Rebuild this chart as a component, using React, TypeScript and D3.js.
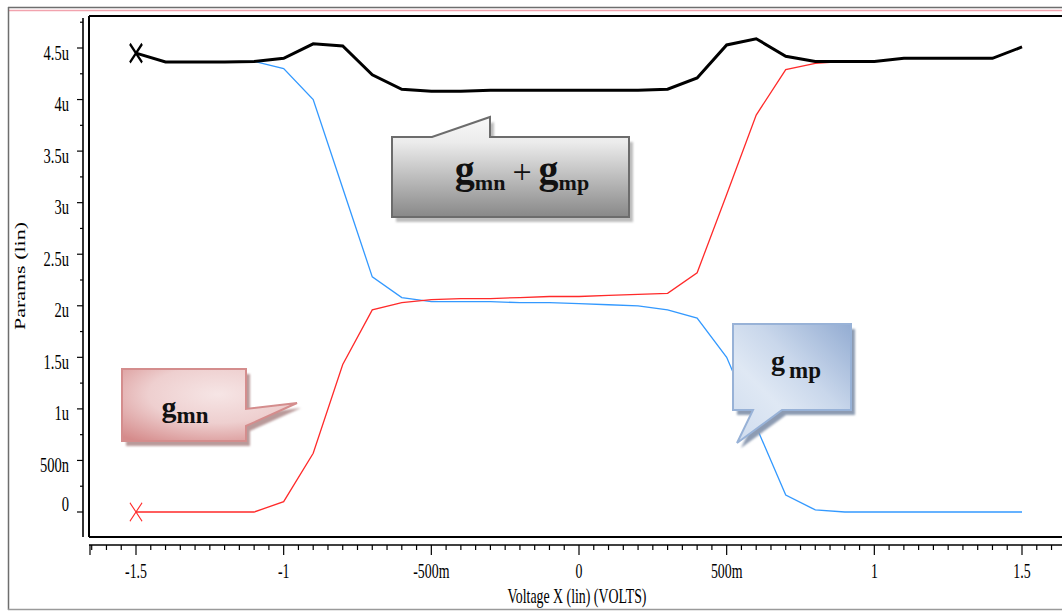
import React from 'react';
import * as d3 from 'd3';

// Sweep of the input voltage (V)
const voltage = [
  -1.5, -1.4, -1.3, -1.2, -1.1, -1.0, -0.9, -0.8, -0.7, -0.6, -0.5, -0.4, -0.3, -0.2, -0.1,
  0, 0.1, 0.2, 0.3, 0.4, 0.5, 0.6, 0.7, 0.8, 0.9, 1.0, 1.1, 1.2, 1.3, 1.4, 1.5,
];
// Transconductances in micro-siemens
const gmn = [
  0, 0, 0, 0, 0, 0.1, 0.57, 1.43, 1.96, 2.03, 2.06, 2.07, 2.07, 2.08, 2.09,
  2.09, 2.1, 2.11, 2.12, 2.32, 3.08, 3.85, 4.29, 4.35, 4.37, 4.37, 4.4, 4.4, 4.4, 4.4, 4.51,
];
const gmp = [
  4.45, 4.365, 4.365, 4.365, 4.37, 4.3, 4.0, 3.14, 2.28, 2.08, 2.04, 2.04, 2.04, 2.03, 2.03,
  2.02, 2.01, 2.0, 1.96, 1.88, 1.5, 0.83, 0.165, 0.02, 0, 0, 0, 0, 0, 0, 0,
];
const gsum = [
  4.45, 4.365, 4.365, 4.365, 4.37, 4.4, 4.54, 4.52, 4.24, 4.1, 4.08, 4.08, 4.09, 4.09, 4.09,
  4.09, 4.09, 4.09, 4.1, 4.21, 4.53, 4.59, 4.42, 4.37, 4.37, 4.37, 4.4, 4.4, 4.4, 4.4, 4.51,
];

const yTickValues = [0, 0.5, 1, 1.5, 2, 2.5, 3, 3.5, 4, 4.5];
const yTickLabels = ['0', '500n', '1u', '1.5u', '2u', '2.5u', '3u', '3.5u', '4u', '4.5u'];
const xTickValues = [-1.5, -1, -0.5, 0, 0.5, 1, 1.5];
const xTickLabels = ['-1.5', '-1', '-500m', '0', '500m', '1', '1.5'];

const W = 1062;
const H = 611;
const FONT = "'Liberation Serif', 'Times New Roman', serif";
const SQ = 0.66; // horizontal squeeze of the waveform viewer's font

const x = d3.scaleLinear().domain([-1.5, 1.5]).range([136, 1022]);
const y = d3.scaleLinear().domain([0, 4.5]).range([512, 48]);

const frame = { left: 89, top: 16, bottom: 537 };
const yAxisX = 83;
const xAxisY = 545;

function linePath(vals: number[]) {
  const gen = d3
    .line<number>()
    .x((_, i) => x(voltage[i]))
    .y((d) => y(d));
  return gen(vals) || '';
}

const xSymbol = d3.symbol(d3.symbolTimes, 90)() || '';

const sumShape = 'M392,137 L432,137 L490,117 L490,137 L629,137 L629,217 L392,217 Z';
const gmnShape = 'M122,369 L246,369 L246,409 L297,403 L246,426 L246,441 L122,441 Z';
const gmpShape = 'M733,324 L851,324 L851,410 L782,410 L737,443 L753,410 L733,410 Z';

export default function App() {
  // minor/major ticks of the x axis every 50 mV
  const xTicks = d3
    .range(-33, 34)
    .map((i) => ({ v: i * 0.05, major: i % 10 === 0 }))
    .filter((t) => x(t.v) >= frame.left && x(t.v) <= W);
  // y axis ticks every 250 n
  const yTicks = d3
    .range(-1, 20)
    .map((i) => ({ v: i * 0.25, major: i % 2 === 0 }))
    .filter((t) => y(t.v) >= 18 && y(t.v) <= frame.bottom);

  return (
    <svg
      width={W}
      height={H}
      style={{ position: 'absolute', left: 0, top: 0, background: '#fff' }}
      fontFamily={FONT}
    >
      <defs>
        <linearGradient id="gGray" x1="0" y1="0" x2="0" y2="1">
          <stop offset="0" stopColor="#f8f8f8" />
          <stop offset="0.25" stopColor="#ececec" />
          <stop offset="1" stopColor="#888888" />
        </linearGradient>
        <radialGradient id="gPink" cx="0.55" cy="0.35" r="0.8">
          <stop offset="0" stopColor="#f6e5e5" />
          <stop offset="0.5" stopColor="#eecfcf" />
          <stop offset="1" stopColor="#d58b8b" />
        </radialGradient>
        <linearGradient id="gBlue" x1="0" y1="1" x2="1" y2="0">
          <stop offset="0" stopColor="#cfdcee" />
          <stop offset="0.35" stopColor="#dfe8f4" />
          <stop offset="0.6" stopColor="#c9d7eb" />
          <stop offset="1" stopColor="#93acd2" />
        </linearGradient>
        <filter id="soft" x="-10%" y="-10%" width="120%" height="130%">
          <feGaussianBlur stdDeviation="0.8" />
        </filter>
      </defs>

      {/* outer border */}
      <line x1={8} y1={7.5} x2={W} y2={7.5} stroke="#6e6e6e" strokeWidth={1.5} />
      <line x1={8} y1={10.5} x2={W} y2={10.5} stroke="#f2a3ae" strokeWidth={1.5} />
      <line x1={8.5} y1={7} x2={8.5} y2={610} stroke="#6e6e6e" strokeWidth={1.5} />
      <line x1={8} y1={609.5} x2={W} y2={609.5} stroke="#9a9a9a" strokeWidth={1.5} />

      {/* plot frame */}
      <line x1={frame.left} y1={frame.top} x2={W} y2={frame.top} stroke="#000" strokeWidth={2} />
      <line x1={frame.left} y1={frame.top} x2={frame.left} y2={frame.bottom} stroke="#000" strokeWidth={2} />
      <line x1={frame.left} y1={frame.bottom} x2={W} y2={frame.bottom} stroke="#000" strokeWidth={2} />

      {/* y axis */}
      <line x1={yAxisX} y1={18} x2={yAxisX} y2={frame.bottom} stroke="#000" strokeWidth={1.6} />
      {yTicks.map((t, i) => (
        <line
          key={'yt' + i}
          x1={yAxisX - (t.major ? 6 : 3)}
          x2={yAxisX}
          y1={y(t.v)}
          y2={y(t.v)}
          stroke="#000"
          strokeWidth={1.2}
        />
      ))}
      {yTickValues.map((v, i) => (
        <text
          key={'yl' + i}
          transform={`translate(69,${y(v) + (v === 0 ? -1 : 11.5)}) scale(${SQ},1)`}
          textAnchor="end"
          fontSize={22}
          fill="#000"
        >
          {yTickLabels[i]}
        </text>
      ))}
      <text
        transform={`translate(25,276) scale(${SQ},1) rotate(-90)`}
        textAnchor="middle"
        fontSize={22}
        fill="#000"
      >
        Params (lin)
      </text>

      {/* x axis */}
      <line x1={frame.left} y1={xAxisY} x2={W} y2={xAxisY} stroke="#000" strokeWidth={1.6} />
      {xTicks.map((t, i) => (
        <line
          key={'xt' + i}
          x1={x(t.v)}
          x2={x(t.v)}
          y1={xAxisY}
          y2={xAxisY + (t.major ? 10 : 5)}
          stroke="#000"
          strokeWidth={1.2}
        />
      ))}
      <line x1={frame.left + 1} x2={frame.left + 1} y1={xAxisY} y2={xAxisY + 10} stroke="#000" strokeWidth={1.2} />
      {xTickValues.map((v, i) => (
        <text
          key={'xl' + i}
          transform={`translate(${x(v)},578) scale(${SQ},1)`}
          textAnchor="middle"
          fontSize={21}
          fill="#000"
        >
          {xTickLabels[i]}
        </text>
      ))}
      <text
        transform={`translate(577,603) scale(${SQ},1)`}
        textAnchor="middle"
        fontSize={21}
        fill="#000"
      >
        Voltage X (lin) (VOLTS)
      </text>

      {/* curves */}
      <path d={linePath(gmp)} fill="none" stroke="#3399ff" strokeWidth={1.3} />
      <path d={linePath(gmn)} fill="none" stroke="#ff2a2a" strokeWidth={1.3} />
      <path d={linePath(gsum)} fill="none" stroke="#000" strokeWidth={3} />

      {/* start markers */}
      <path
        d={xSymbol}
        transform={`translate(${x(voltage[0])},${y(gsum[0])}) scale(1.05,1.6)`}
        fill="none"
        stroke="#000"
        strokeWidth={1.9}
      />
      <path
        d={xSymbol}
        transform={`translate(${x(voltage[0])},${y(gmn[0])}) scale(1.05,1.6)`}
        fill="none"
        stroke="#ff2a2a"
        strokeWidth={0.9}
      />

      {/* sum callout */}
      <path d={sumShape} transform="translate(4,5)" fill="#bdbdbd" filter="url(#soft)" />
      <path d={sumShape} fill="url(#gGray)" stroke="#6c6c6c" strokeWidth={2} />
      <text x={522} y={183} textAnchor="middle" fontWeight="bold" fill="#111">
        <tspan fontSize={40}>g</tspan>
        <tspan fontSize={22} dy={7}>mn</tspan>
        <tspan fontSize={34} fontWeight="normal" dy={-7} dx={7}>+</tspan>
        <tspan fontSize={40} dx={7}>g</tspan>
        <tspan fontSize={22} dy={7}>mp</tspan>
      </text>

      {/* gmn callout */}
      <path d={gmnShape} transform="translate(4,5)" fill="#b99a9a" filter="url(#soft)" />
      <path d={gmnShape} fill="url(#gPink)" stroke="#d48d8d" strokeWidth={2} />
      <text x={185} y={417} textAnchor="middle" fontWeight="bold" fill="#111">
        <tspan fontSize={30}>g</tspan>
        <tspan fontSize={23} dy={6}>mn</tspan>
      </text>

      {/* gmp callout */}
      <path d={gmpShape} transform="translate(4,5)" fill="#8d9bb2" filter="url(#soft)" />
      <path d={gmpShape} fill="url(#gBlue)" stroke="#98b2d7" strokeWidth={2} />
      <text x={796} y={370} textAnchor="middle" fontWeight="bold" fill="#111">
        <tspan fontSize={28}>g</tspan>
        <tspan fontSize={23} dy={8} dx={4}>mp</tspan>
      </text>
    </svg>
  );
}
